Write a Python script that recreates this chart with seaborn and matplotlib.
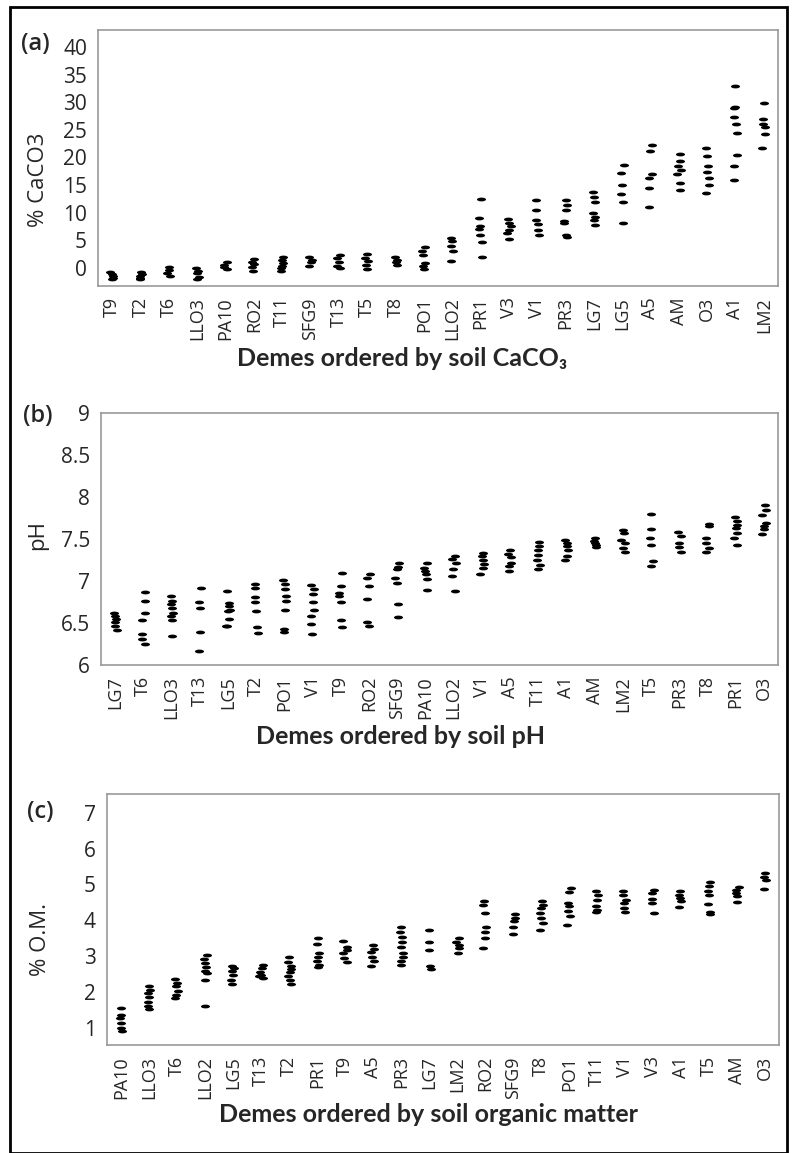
import numpy as np
import pandas as pd
import seaborn as sns
import matplotlib.pyplot as plt
from matplotlib.path import Path
from matplotlib.patches import Rectangle
from matplotlib.ticker import MultipleLocator

# ---- panel (a): % CaCO3 ----
caco3_demes = ["T9", "T2", "T6", "LLO3", "PA10", "RO2", "T11", "SFG9", "T13", "T5", "T8", "PO1",
               "LLO2", "PR1", "V3", "V1", "PR3", "LG7", "LG5", "A5", "AM", "O3", "A1", "LM2"]
caco3_values = [
    [-0.8, -1.2, -1.5, -1.8, -2.1],
    [-0.7, -1.1, -1.4, -1.8, -2.1],
    [0.1, -0.4, -0.9, -1.4],
    [0.0, -0.5, -1.0, -1.6, -2.1],
    [1.0, 0.5, 0.1, -0.3],
    [1.6, 1.0, 0.6, 0.1, -0.5],
    [2.0, 1.4, 0.9, 0.4, -0.1, -0.6],
    [2.0, 1.5, 1.0, 0.4],
    [2.4, 1.7, 1.1, 0.4, 0.0],
    [2.5, 1.8, 1.2, 0.5, -0.2],
    [1.9, 1.4, 1.0, 0.5],
    [3.7, 3.1, 2.4, 0.9, 0.3, -0.2],
    [5.4, 4.8, 3.9, 3.0, 1.2],
    [12.5, 9.0, 7.5, 7.0, 6.0, 4.6, 1.9],
    [8.9, 8.2, 7.5, 6.9, 6.3, 5.2],
    [12.2, 10.5, 8.6, 8.0, 6.9, 6.0],
    [12.2, 11.3, 10.4, 8.4, 8.1, 6.0, 5.5],
    [13.8, 12.8, 12.0, 9.9, 9.2, 8.6, 7.7],
    [18.7, 17.2, 15.0, 13.4, 12.0, 8.2],
    [22.2, 21.1, 17.0, 16.3, 14.4, 11.1],
    [20.7, 19.4, 18.5, 17.8, 17.0, 15.3, 14.1],
    [21.8, 20.2, 18.4, 17.3, 16.3, 15.0, 13.6],
    [33.0, 29.2, 28.9, 27.3, 26.0, 24.4, 20.4, 18.5, 16.0],
    [29.8, 26.9, 26.1, 25.6, 24.2, 21.7],
]

# ---- panel (b): pH ----
ph_demes = ["LG7", "T6", "LLO3", "T13", "LG5", "T2", "PO1", "V1", "T9", "RO2", "SFG9", "PA10",
            "LLO2", "V1", "A5", "T11", "A1", "AM", "LM2", "T5", "PR3", "T8", "PR1", "O3"]
ph_values = [
    [6.62, 6.58, 6.55, 6.51, 6.47, 6.42],
    [6.87, 6.76, 6.62, 6.54, 6.37, 6.31, 6.25],
    [6.82, 6.76, 6.73, 6.68, 6.62, 6.58, 6.53, 6.35],
    [6.92, 6.75, 6.68, 6.39, 6.17],
    [6.88, 6.74, 6.70, 6.66, 6.64, 6.55, 6.47, 6.46],
    [6.96, 6.92, 6.81, 6.75, 6.64, 6.45, 6.38],
    [7.01, 6.96, 6.90, 6.82, 6.76, 6.66, 6.43, 6.39],
    [6.95, 6.90, 6.85, 6.75, 6.66, 6.58, 6.49, 6.37],
    [7.09, 6.94, 6.86, 6.82, 6.75, 6.53, 6.45],
    [7.08, 7.04, 6.94, 6.79, 6.51, 6.47],
    [7.22, 7.17, 7.14, 7.04, 6.98, 6.73, 6.57],
    [7.22, 7.16, 7.12, 7.08, 7.02, 6.89],
    [7.30, 7.26, 7.22, 7.14, 7.06, 6.88],
    [7.33, 7.30, 7.25, 7.20, 7.15, 7.08],
    [7.37, 7.32, 7.28, 7.22, 7.18, 7.12],
    [7.47, 7.42, 7.37, 7.31, 7.25, 7.19, 7.14],
    [7.49, 7.45, 7.42, 7.37, 7.30, 7.25],
    [7.51, 7.48, 7.45, 7.43, 7.41],
    [7.61, 7.57, 7.49, 7.45, 7.39, 7.34],
    [7.80, 7.62, 7.51, 7.43, 7.24, 7.18],
    [7.58, 7.53, 7.45, 7.41, 7.34],
    [7.68, 7.65, 7.51, 7.45, 7.39, 7.34],
    [7.76, 7.71, 7.67, 7.63, 7.57, 7.51, 7.43],
    [7.91, 7.85, 7.79, 7.69, 7.65, 7.62, 7.56],
]

# ---- panel (c): % organic matter ----
om_demes = ["PA10", "LLO3", "T6", "LLO2", "LG5", "T13", "T2", "PR1", "T9", "A5", "PR3", "LG7",
            "LM2", "RO2", "SFG9", "T8", "PO1", "T11", "V1", "V3", "A1", "T5", "AM", "O3"]
om_values = [
    [1.56, 1.37, 1.28, 1.14, 1.00, 0.93],
    [2.16, 2.07, 1.97, 1.86, 1.74, 1.62, 1.53],
    [2.36, 2.27, 2.16, 2.04, 1.93, 1.84],
    [3.04, 2.92, 2.81, 2.70, 2.58, 2.53, 2.35, 1.62],
    [2.74, 2.67, 2.60, 2.48, 2.35, 2.23],
    [2.76, 2.67, 2.55, 2.48, 2.45, 2.39],
    [2.98, 2.83, 2.74, 2.64, 2.55, 2.46, 2.35, 2.23],
    [3.51, 3.35, 3.09, 2.98, 2.88, 2.76, 2.70],
    [3.44, 3.27, 3.18, 3.09, 2.95, 2.83],
    [3.32, 3.20, 3.11, 2.99, 2.86, 2.72],
    [3.83, 3.69, 3.55, 3.41, 3.27, 3.09, 2.98, 2.86, 2.76],
    [3.74, 3.41, 3.18, 2.72, 2.64],
    [3.51, 3.41, 3.32, 3.23, 3.09],
    [4.55, 4.42, 4.20, 3.83, 3.69, 3.51, 3.23],
    [4.18, 4.06, 3.97, 3.83, 3.62],
    [4.53, 4.43, 4.34, 4.20, 4.06, 3.92, 3.72],
    [4.90, 4.78, 4.48, 4.39, 4.25, 4.13, 3.88],
    [4.81, 4.71, 4.57, 4.41, 4.30, 4.22],
    [4.83, 4.71, 4.57, 4.48, 4.34, 4.22],
    [4.85, 4.76, 4.59, 4.48, 4.20],
    [4.81, 4.71, 4.62, 4.53, 4.37],
    [5.06, 4.96, 4.81, 4.71, 4.45, 4.22, 4.18],
    [4.93, 4.85, 4.76, 4.69, 4.50],
    [5.33, 5.22, 5.13, 4.87],
]

W, H = 792, 1153
sns.set_style("white")
plt.rcParams["font.family"] = ["Open Sans", "DejaVu Sans"]

# short horizontal dash used as the point marker
circle = Path.unit_circle()
dash = Path(circle.vertices * np.array([1.0, 0.42]), circle.codes)


def long_table(values):
    rows = [(i, v) for i, vals in enumerate(values) for v in vals]
    return pd.DataFrame(rows, columns=["pos", "value"])


def draw_panel(rect_px, demes, values, ylim, major, minor):
    left, top, right, bottom = rect_px
    ax = fig.add_axes([left / W, 1 - bottom / H, (right - left) / W, (bottom - top) / H])
    sns.stripplot(data=long_table(values), x="pos", y="value", color="black", marker=dash,
                  size=6.5, jitter=0.07, linewidth=0, ax=ax)
    ax.set_xlim(-0.5, len(demes) - 0.5)
    ax.set_ylim(*ylim)
    ax.set_xticks(range(len(demes)))
    ax.set_xticklabels(demes, rotation=90, fontsize=13)
    ax.yaxis.set_major_locator(MultipleLocator(major))
    ax.yaxis.set_minor_locator(MultipleLocator(minor))
    ax.tick_params(axis="y", which="major", length=3, color="#aaaaaa", labelsize=15, pad=5)
    ax.tick_params(axis="y", which="minor", length=2, color="#cccccc")
    ax.tick_params(axis="x", length=2, color="#bbbbbb", pad=6)
    ax.set_xlabel("")
    ax.set_ylabel("")
    for sp in ax.spines.values():
        sp.set_color("#999999")
        sp.set_linewidth(1.2)
    return ax


fig = plt.figure(figsize=(W / 100, H / 100), dpi=100)

ax_a = draw_panel((98, 30, 778, 286), caco3_demes, caco3_values, (-3.3, 43.1), 5, 2.5)
ax_b = draw_panel((101, 413, 778, 665), ph_demes, ph_values, (6.0, 9.0), 0.5, 0.25)
ax_c = draw_panel((107, 794, 779, 1045), om_demes, om_values, (0.53, 7.52), 1, 0.5)
ax_b.yaxis.set_major_formatter(plt.FuncFormatter(lambda v, p: f"{v:g}"))

# y labels
fig.text(38 / W, 1 - 180 / H, "% CaCO3", rotation=90, ha="center", va="center", fontsize=16)
fig.text(38 / W, 1 - 535 / H, "pH", rotation=90, ha="center", va="center", fontsize=16)
fig.text(40 / W, 1 - 940 / H, "% O.M.", rotation=90, ha="center", va="center", fontsize=16)

# x titles
title_font = dict(fontsize=18, fontweight="bold", family=["Lato", "DejaVu Sans"], ha="center", va="center")
fig.text(402 / W, 1 - 358 / H, "Demes ordered by soil CaCO₃", **title_font)
fig.text(400 / W, 1 - 737 / H, "Demes ordered by soil pH", **title_font)
fig.text(429 / W, 1 - 1114 / H, "Demes ordered by soil organic matter", **title_font)

# panel letters
fig.text(35 / W, 1 - 44 / H, "(a)", ha="center", va="center", fontsize=17, fontweight="semibold")
fig.text(38 / W, 1 - 416 / H, "(b)", ha="center", va="center", fontsize=17, fontweight="semibold")
fig.text(40 / W, 1 - 812 / H, "(c)", ha="center", va="center", fontsize=17, fontweight="semibold")

# outer frame
fig.patches.append(Rectangle((10 / W, 0.5 / H), 777 / W, (H - 7.5) / H, transform=fig.transFigure,
                             fill=False, edgecolor="black", linewidth=2))

fig.savefig("out.png", dpi=100)
